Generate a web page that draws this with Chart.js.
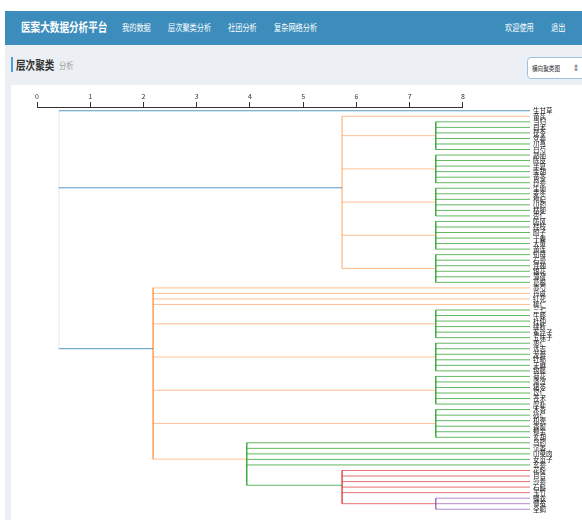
<!DOCTYPE html>
<html>
<head>
<meta charset="utf-8">
<script src="https://cdn.jsdelivr.net/npm/chart.js@4.4.0/dist/chart.umd.min.js"></script>
<style>
  html, body { margin: 0; padding: 0; width: 582px; height: 520px; overflow: hidden; background: #fff;
    font-family: "Noto Sans CJK SC", "Noto Sans", sans-serif; }
  .navbar { position: absolute; left: 5px; top: 11px; width: 577px; height: 34px; background: #3c8dbc; }
  .content { position: absolute; left: 5px; top: 45px; width: 577px; height: 475px; background: #ecf0f5; }
  .t { position: absolute; white-space: nowrap; transform: scaleX(0.8); transform-origin: 0 50%; line-height: 1; }
  .brand { left: 21px; top: 21px; font-size: 12px; font-weight: bold; color: #fff; }
  .nav { top: 23px; font-size: 9px; color: #fff; }
  .bar { position: absolute; left: 11px; top: 57px; width: 2px; height: 15px; background: #4a9fd4; }
  .title { left: 16px; top: 59px; font-size: 12px; font-weight: bold; color: #333; }
  .sub { left: 59px; top: 61px; font-size: 9px; color: #999; }
  .select { position: absolute; left: 527px; top: 57px; width: 60px; height: 22px; background: #fff;
    border: 1px solid #9cc3e6; border-radius: 4px; box-sizing: border-box; }
  .select .t { left: 4px; top: 7px; font-size: 7px; color: #333; }
  .select .arr { left: 45px; top: 5px; font-size: 9px; color: #555; }
  .panel { position: absolute; left: 11px; top: 85px; width: 571px; height: 435px; background: #fff; }
</style>
</head>
<body>
<div class="navbar"></div>
<div class="content"></div>
<span class="t brand">医案大数据分析平台</span>
<span class="t nav" style="left:122px">我的数据</span>
<span class="t nav" style="left:168px">层次聚类分析</span>
<span class="t nav" style="left:228px">社团分析</span>
<span class="t nav" style="left:274px">复杂网络分析</span>
<span class="t nav" style="left:505px">欢迎使用</span>
<span class="t nav" style="left:551px">退出</span>
<div class="bar"></div>
<span class="t title">层次聚类</span>
<span class="t sub">分析</span>
<div class="select"><span class="t">横向聚类图</span><span class="t arr">⇕</span></div>
<div class="panel"><canvas id="tree" width="571" height="435"></canvas></div>
<script>
// leaves, top to bottom
const leafNames = [
  '生甘草', '黄芪', '当归', '白术', '茯苓', '党参', '川芎', '白芍', '熟地', '陈皮',
  '半夏', '柴胡', '黄芩', '丹参', '生地', '麦冬', '枸杞', '山药', '桔梗', '杏仁',
  '防风', '桂枝', '附子', '干姜', '大黄', '黄连', '知母', '石膏', '连翘', '银花',
  '薄荷', '葛根', '赤芍', '丹皮', '红花', '桃仁', '三七', '牛膝', '杜仲', '续断',
  '菟丝子', '五味子', '枣仁', '远志', '龙骨', '牡蛎', '天麻', '钩藤', '菊花', '泽泻',
  '猪苓', '苡仁', '苍术', '厚朴', '木香', '砂仁', '枳壳', '香附', '郁金', '玄胡',
  '乌药', '沉香', '山萸肉', '女贞子', '玄参', '花粉', '百合', '沙参', '石斛', '玉竹',
  '蝉衣', '僵蚕', '全蝎'
];
const leafHeight = 9.26;

// clusters: merge position on the distance axis and their members
const nodeIds = ['root', 'b', 'c', 'g1', 'g2', 'g3', 'g4', 'g5', 'g6', 'g7', 'g8', 'g9', 'g', 'r', 'p'];
const nodeHeights = [0.41, 5.73, 2.18, 7.49, 7.49, 7.49, 7.49, 7.49, 7.49, 7.49, 7.49, 7.49, 3.94, 5.73, 7.49];
const nodeChildren = [
  [0, 'b', 'c'],
  [1, 'g1', 'g2', 'g3', 'g4', 'g5'],
  [32, 33, 34, 35, 'g6', 'g7', 'g8', 'g9', 'g'],
  [2, 3, 4, 5, 6, 7],
  [8, 9, 10, 11, 12, 13],
  [14, 15, 16, 17, 18, 19],
  [20, 21, 22, 23, 24, 25],
  [26, 27, 28, 29, 30, 31],
  [36, 37, 38, 39, 40, 41],
  [42, 43, 44, 45, 46, 47],
  [48, 49, 50, 51, 52, 53],
  [54, 55, 56, 57, 58, 59],
  [60, 61, 62, 63, 64, 'r'],
  [65, 66, 67, 68, 69, 'p'],
  [70, 71, 72]
];
const axisTicks = [0, 1, 2, 3, 4, 5, 6, 7, 8];

const blue = [31, 119, 180], orange = [253, 141, 60], green = [44, 160, 44], red = [214, 39, 40], purple = [148, 103, 189];
const nodeColor = { root: blue, b: orange, c: orange, g: green, r: red, p: purple };
const vAlpha = { root: 0.05, b: 0.3, c: 0.6, r: 0.55 };
const hAlpha = { b: 0.55, c: 0.55, r: 0.65 };
const rgba = (c, a) => 'rgba(' + c.join(',') + ',' + a + ')';

function place(ch) {
  if (typeof ch === 'number') return { x: leafHeight, y: ch };
  const i = nodeIds.indexOf(ch);
  const kids = nodeChildren[i].map(place);
  return { id: ch, x: nodeHeights[i], y: kids.reduce((s, k) => s + k.y, 0) / kids.length, kids: kids };
}

const datasets = [];
function seg(a, b, color) {
  datasets.push({ data: [a, b], showLine: true, borderColor: color, borderWidth: 1,
    pointRadius: 0, fill: false, clip: false });
}
function walk(n) {
  if (!n.kids) return;
  const c = nodeColor[n.id] || green;
  const ys = n.kids.map(k => k.y);
  seg({ x: n.x, y: Math.min(...ys) }, { x: n.x, y: Math.max(...ys) }, rgba(c, vAlpha[n.id] ?? 0.7));
  n.kids.forEach(k => {
    seg({ x: n.x, y: k.y }, { x: k.x, y: k.y }, rgba(c, hAlpha[n.id] ?? 0.75));
    walk(k);
  });
}
walk(place('root'));

const domainLine = {
  id: 'domainLine',
  afterDraw(chart) {
    const x = chart.scales.x, ctx = chart.ctx;
    const y = Math.round(chart.chartArea.top) - 0.5;
    ctx.save();
    ctx.strokeStyle = '#333';
    ctx.lineWidth = 1.2;
    ctx.beginPath();
    ctx.moveTo(x.getPixelForValue(axisTicks[0]), y);
    ctx.lineTo(x.getPixelForValue(axisTicks[axisTicks.length - 1]), y);
    ctx.stroke();
    ctx.restore();
  }
};

Chart.defaults.font.family = '"Noto Sans CJK SC", "DejaVu Sans", sans-serif';
new Chart(document.getElementById('tree'), {
  type: 'scatter',
  data: { datasets: datasets },
  plugins: [domainLine],
  options: {
    responsive: false,
    animation: false,
    layout: { padding: { left: 26, top: 0, right: 0, bottom: 5 } },
    plugins: { legend: { display: false }, tooltip: { enabled: false } },
    scales: {
      x: {
        type: 'linear', position: 'top', min: 0, max: leafHeight,
        afterBuildTicks: s => { s.ticks = axisTicks.map(v => ({ value: v })); },
        afterFit: s => { s.height = 23; },
        border: { display: false },
        grid: { drawOnChartArea: false, drawTicks: true, tickLength: 6, color: '#333' },
        ticks: { font: { size: 7 }, color: '#333', padding: 1, maxRotation: 0 }
      },
      y: {
        type: 'linear', position: 'right', reverse: true, min: -0.5, max: 72.7,
        afterBuildTicks: s => { s.ticks = leafNames.map((n, i) => ({ value: i })); },
        afterFit: s => { s.width = 52; },
        border: { display: false },
        grid: { display: false, drawTicks: false },
        ticks: { autoSkip: false, font: { size: 6.5 }, color: '#222', padding: 3,
          callback: v => leafNames[v] }
      }
    }
  }
});
</script>
</body>
</html>
